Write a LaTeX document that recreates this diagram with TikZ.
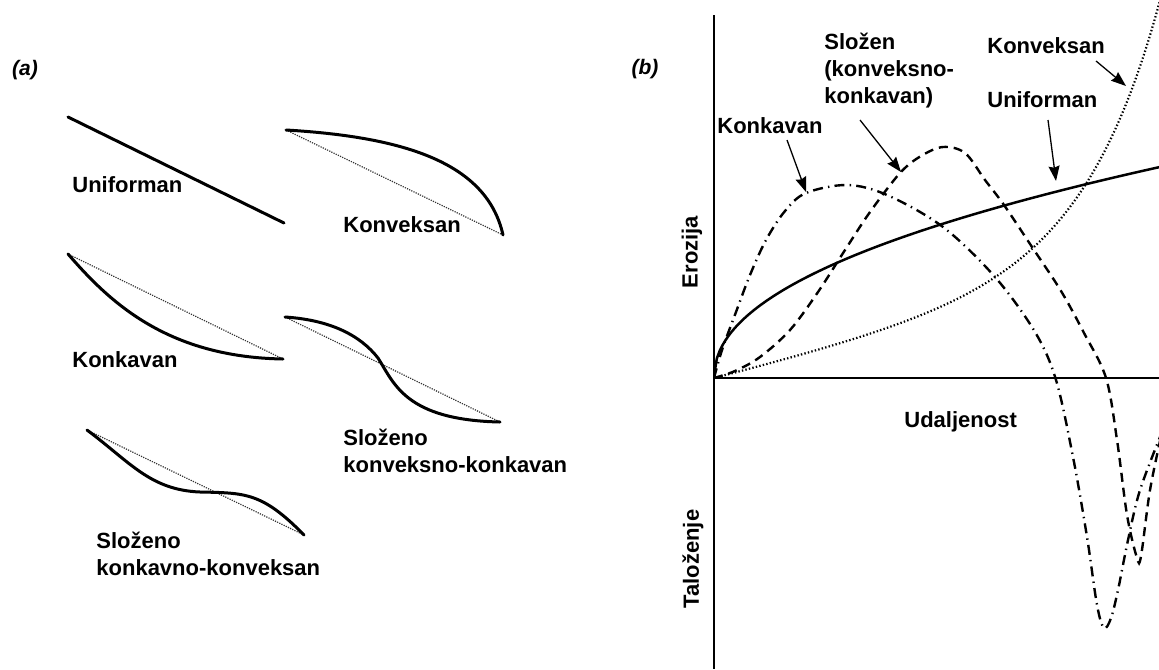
\documentclass[tikz,border=0pt]{standalone}
\usepackage{fontspec}
\setmainfont{Liberation Sans}
\usetikzlibrary{arrows.meta}
\begin{document}
\begin{tikzpicture}[x=0.5pt,y=-0.5pt,
  lbl/.style={font=\fontsize{11pt}{13.5pt}\selectfont\bfseries, inner sep=0pt, align=left},
  panel/.style={font=\fontsize{10.5pt}{12pt}\selectfont\bfseries\itshape, inner sep=0pt},
  profile/.style={line width=1.5pt, line cap=round},
  chord/.style={line width=0.6pt, black!80, dash pattern=on 0.6pt off 0.6pt},
  axis/.style={line width=0.8pt},
  uni/.style={line width=1.25pt},
  konv/.style={line width=1.1pt, dash pattern=on 0.7pt off 1.1pt},
  konk/.style={line width=1.2pt, dash pattern=on 5pt off 2.6pt on 0.7pt off 2.6pt},
  slo/.style={line width=1.2pt, dash pattern=on 4.5pt off 3pt},
  pointer/.style={line width=0.65pt, -{Stealth[length=7.5pt,width=5.5pt,inset=0.8pt]}}]
\useasboundingbox (0,0) rectangle (1159,669);

% ---------- panel (a) ----------
\node[panel] (pa) at (25,70) {(a)};

% Uniforman
\draw[profile] (68,117) -- (284,223);
\node[lbl, anchor=base west] (ua) at (72,192) {Uniforman};

% Konveksan
\draw[chord] (286,130) -- (503,235);
\draw[profile] (286,130) .. controls (405,137) and (487,163) .. (503,235);
\node[lbl, anchor=base west] (kva) at (343,232) {Konveksan};

% Konkavan
\draw[chord] (68,254) -- (283,359);
\draw[profile] (68,254) .. controls (108,300) and (165,357) .. (283,359);
\node[lbl, anchor=base west] (kka) at (72,367) {Konkavan};

% Slozeno konveksno-konkavan
\draw[chord] (285,317) -- (500,422);
\draw[profile] (285,317) .. controls (330,320) and (360,335) .. (378,358)
  .. controls (394,383) and (405,420) .. (500,422);
\node[lbl, anchor=north west] (sa1) at (343,429) {Složeno\\konveksno-konkavan};

% Slozeno konkavno-konveksan
\draw[chord] (87,430) -- (304,535);
\draw[profile] (87,430) .. controls (130,462) and (150,490) .. (200,492)
  .. controls (245,493) and (262,492) .. (304,535);
\node[lbl, anchor=north west] (sa2) at (96,532) {Složeno\\konkavno-konveksan};

% ---------- panel (b) ----------
\node[panel] (pb) at (645,69) {(b)};

\draw[axis] (714,15) -- (714,669);
\draw[axis] (714,378) -- (1159,378);

\node[lbl, rotate=90] (ero) at (692,252) {Erozija};
\node[lbl, rotate=90] (tal) at (693,559) {Taloženje};
\node[lbl, anchor=base west] (uda) at (904,427) {Udaljenost};

\begin{scope}
\clip (714,0) rectangle (1159,669);
% Uniforman (solid)
\draw[uni] (714,378) -- plot[domain=0.02:446, samples=160] ({714+\x}, {378-12*(\x)^0.47});
% Konveksan (dotted)
\draw[konv] plot[domain=0:448, samples=150] ({714+\x}, {378-0.25*\x-0.81*(exp(0.013*\x)-1)});
% Konkavan (dash-dot)
\draw[konk] plot[smooth, tension=0.55] coordinates {(714,378) (722,350) (736,312) (750,275) (766,240) (785,211) (806,193) (847,185) (887,195) (943,227) (995,277) (1035,332) (1056,380) (1073,457) (1087,537) (1097,605) (1104,628) (1111,618) (1118,590) (1128,540) (1140,490) (1162,432)};
% Slozen (dashed)
\draw[slo] plot[smooth, tension=0.55] coordinates {(714,378) (735,371) (760,357) (790,330) (818,292) (845,250) (870,212) (900,173) (921,156) (943,147) (965,153) (985,180) (1004,205) (1032,247) (1061,291) (1084,333) (1106,378) (1117,440) (1127,515) (1137,558) (1141,556) (1150,490) (1162,432)};
\end{scope}

% labels and pointers
\node[lbl, anchor=base west] (kkb) at (717,133) {Konkavan};
\node[lbl, anchor=north west] (slb) at (824,33) {Složen\\(konveksno-\\konkavan)};
\node[lbl, anchor=base west] (kvb) at (987,53) {Konveksan};
\node[lbl, anchor=base west] (ub) at (987,107) {Uniforman};

\coordinate (kkt) at (806,192);
\coordinate (slt) at (901,172);
\coordinate (kvt) at (1126,86);
\coordinate (ubt) at (1056,181);
\draw[pointer] (787,140) -- (kkt);
\draw[pointer] (860,120) -- (slt);
\draw[pointer] (1096,61) -- (kvt);
\draw[pointer] (1048,120) -- (ubt);
\end{tikzpicture}
\end{document}
